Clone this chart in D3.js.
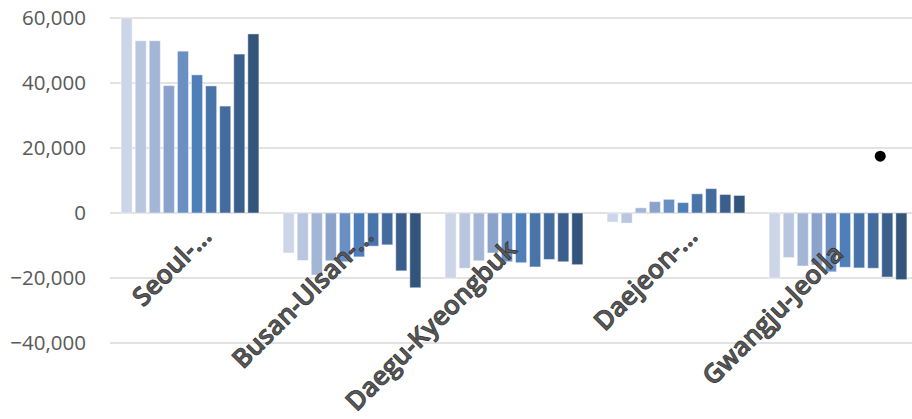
<!DOCTYPE html>
<html>
<head>
<meta charset="utf-8">
<script src="https://cdn.jsdelivr.net/npm/d3@7/dist/d3.min.js"></script>
<style>
  html, body { margin: 0; padding: 0; background: #fff; }
  svg { display: block; }
</style>
</head>
<body>
<svg id="chart" width="912" height="419"></svg>
<script>
// ---- data ----
const categories = ["Seoul-…", "Busan-Ulsan-…", "Daegu-Kyeongbuk", "Daejeon-…", "Gwangju-Jeolla"];
const seriesNames = ["S1", "S2", "S3", "S4", "S5", "S6", "S7", "S8", "S9", "S10"];
const seoulValues   = [60000, 53000, 53000, 39200, 49800, 42500, 39100, 32900, 48900, 55100];
const busanValues   = [-12300, -14600, -19100, -14700, -15000, -13500, -10200, -9800, -17800, -23000];
const daeguValues   = [-20100, -17000, -14700, -12300, -15000, -15300, -16600, -14300, -15000, -15900];
const daejeonValues = [-2800, -3100, 1600, 3500, 4200, 3200, 5900, 7500, 5700, 5400];
const gwangjuValues = [-20000, -13700, -16300, -16000, -18100, -16700, -16900, -17000, -19700, -20500];
const yTicks = [-40000, -20000, 0, 20000, 40000, 60000];
const markerPoint = { category: "Gwangju-Jeolla", slot: 7.5, value: 17500 };

const valuesByCategory = [seoulValues, busanValues, daeguValues, daejeonValues, gwangjuValues];

// ---- styles ----
const colors = ["#CCD6E8", "#B8C6E0", "#A3B6D6", "#8BA3CA", "#6A8FC3", "#4E7FB8", "#4874AA", "#436B9E", "#3B5F8C", "#33547B"];

const svg = d3.select("#chart");
const plotLeft = 109, plotRight = 919, gridRight = 912, plotTop = 18, plotBottom = 343;

const y = d3.scaleLinear().domain([-40000, 60000]).range([plotBottom, plotTop]);
const x0 = d3.scaleBand().domain(categories).range([plotLeft, plotRight]).padding(0);
const half = x0.bandwidth() / 2;
const x1 = d3.scaleBand().domain(d3.range(seriesNames.length))
  .range([half - 70.4, half + 70.4]).paddingInner(3 / 14).paddingOuter(3 / 28);

// gridlines
svg.append("g").selectAll("line").data(yTicks).join("line")
  .attr("x1", 110).attr("x2", gridRight)
  .attr("y1", d => y(d)).attr("y2", d => y(d))
  .attr("stroke", "#D9D9D9").attr("stroke-width", 1.5);

// y axis labels
const fmt = d3.format(",");
svg.append("g").selectAll("text").data(yTicks).join("text")
  .attr("x", 86).attr("y", d => y(d))
  .attr("dy", "0.36em")
  .attr("text-anchor", "end")
  .attr("font-family", "'Open Sans', sans-serif")
  .attr("font-size", 20.5)
  .attr("fill", "#595959")
  .text(d => fmt(d));

// bars
const flat = [];
categories.forEach((c, ci) => {
  valuesByCategory[ci].forEach((v, si) => flat.push({ c, si, v }));
});
svg.append("g").selectAll("rect").data(flat).join("rect")
  .attr("x", d => x0(d.c) + x1(d.si))
  .attr("width", x1.bandwidth())
  .attr("y", d => y(Math.max(0, Math.min(60000, d.v))))
  .attr("height", d => Math.abs(y(Math.min(60000, d.v)) - y(0)))
  .attr("fill", d => colors[d.si])
  .attr("stroke", "rgba(255,255,255,0.45)")
  .attr("stroke-width", 1);

// marker point
const step = x1.step();
svg.append("circle")
  .attr("cx", x0(markerPoint.category) + x1(0) + x1.bandwidth() / 2 + markerPoint.slot * step)
  .attr("cy", y(markerPoint.value))
  .attr("r", 5.5)
  .attr("fill", "#000");

// category labels
const labelShift = { "Daegu-Kyeongbuk": [-19, 13], "Gwangju-Jeolla": [-16, 17] };
svg.append("g").selectAll("text").data(categories).join("text")
  .attr("transform", d => {
    const s = labelShift[d] || [0, 0];
    return `translate(${x0(d) + half + 23 + s[0]},${238 + s[1]}) rotate(-45)`;
  })
  .attr("text-anchor", "end")
  .attr("font-family", "'Open Sans', sans-serif")
  .attr("font-weight", 600)
  .attr("font-size", 26)
  .attr("fill", "#5a5a5a")
  .attr("stroke", "#333333")
  .attr("stroke-width", 0.8)
  .text(d => d);
</script>
</body>
</html>
